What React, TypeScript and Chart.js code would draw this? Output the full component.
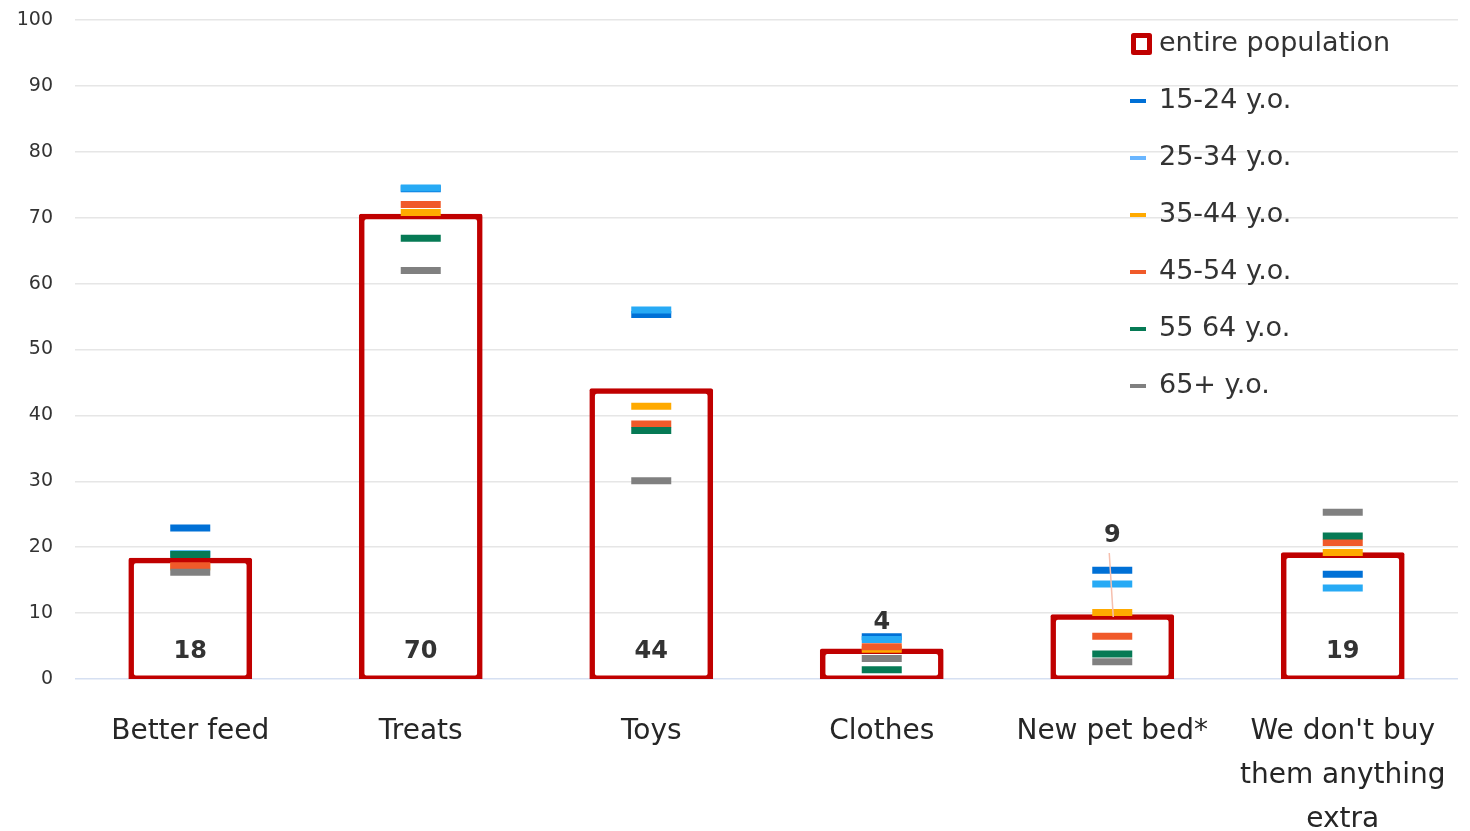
import React, { useEffect, useRef } from "react";
import { Chart, registerables } from "chart.js";

Chart.register(...registerables);

const FONT = "'Comic Sans MS', 'DejaVu Sans', sans-serif";

const categories: (string | string[])[] = [
  "Better feed",
  "Treats",
  "Toys",
  "Clothes",
  "New pet bed*",
  ["We don't buy", "them anything", "extra"],
];

const entirePopulation = [18, 70.2, 43.7, 4.2, 9.4, 18.8];
const age15to24 = [22.9, 74.4, 55.3, 6.4, 16.5, 15.9];
const age25to34 = [19.0, 74.5, 56.0, 6.0, 14.4, 13.8];
const age35to44 = [17.0, 70.8, 41.4, 4.5, 10.1, 19.2];
const age45to54 = [17.2, 72.0, 38.7, 4.9, 6.5, 20.7];
const age55to64 = [18.9, 66.9, 37.7, 1.4, 3.8, 21.7];
const age65plus = [16.2, 62.0, 30.1, 3.1, 2.6, 25.3];

// vertical position (in data units) of each bar's value label
const valueLabelAt = [4.2, 4.2, 4.2, 8.5, 21.7, 4.2];

const yMin = 0;
const yMax = 100;
const yStep = 10;

const groups = [
  { label: "15-24 y.o.", data: age15to24, color: "#0070d6" },
  { label: "25-34 y.o.", data: age25to34, color: "#27aaf5" },
  { label: "35-44 y.o.", data: age35to44, color: "#ffaa00" },
  { label: "45-54 y.o.", data: age45to54, color: "#f05a2a" },
  { label: "55 64 y.o.", data: age55to64, color: "#067a55" },
  { label: "65+ y.o.", data: age65plus, color: "#808080" },
];
const legendColors = ["#0070d6", "#6ab6ff", "#ffaa00", "#f05a2a", "#067a55", "#808080"];

const overlayPlugin = {
  id: "overlay",
  afterDatasetsDraw(chart: any) {
    const ctx = chart.ctx as CanvasRenderingContext2D;
    const xs = chart.scales.x;
    const ys = chart.scales.y;
    ctx.save();
    entirePopulation.forEach((v, i) => {
      const cx = xs.getPixelForValue(i);
      const ly = ys.getPixelForValue(valueLabelAt[i]);
      const top = ys.getPixelForValue(v);
      if (ly < top - 40) {
        ctx.strokeStyle = "#f6bfae";
        ctx.lineWidth = 1.5;
        ctx.beginPath();
        ctx.moveTo(cx - 3, ly + 17);
        ctx.lineTo(cx + 1, top);
        ctx.stroke();
      }
      ctx.fillStyle = "#333333";
      ctx.font = `bold 24px ${FONT}`;
      ctx.textAlign = "center";
      ctx.textBaseline = "middle";
      ctx.fillText(String(Math.round(v)), cx, ly);
    });
    ctx.restore();
  },
  afterDraw(chart: any) {
    const ctx = chart.ctx as CanvasRenderingContext2D;
    const area = chart.chartArea;
    const x0 = area.right - 328;
    const y0 = area.top + 24;
    const gap = 57;
    ctx.save();
    ctx.font = `27px ${FONT}`;
    ctx.textAlign = "left";
    ctx.textBaseline = "middle";
    ctx.strokeStyle = "#c00000";
    ctx.lineWidth = 5;
    ctx.lineJoin = "round";
    ctx.strokeRect(x0 + 3.5, y0 - 8.5, 16, 17);
    ctx.fillStyle = "#333333";
    ctx.fillText("entire population", x0 + 29, y0);
    groups.forEach((g, i) => {
      const yy = y0 + gap * (i + 1);
      ctx.strokeStyle = legendColors[i];
      ctx.lineWidth = 4;
      ctx.beginPath();
      ctx.moveTo(x0, yy);
      ctx.lineTo(x0 + 16, yy);
      ctx.stroke();
      ctx.fillStyle = "#333333";
      ctx.fillText(g.label, x0 + 29, yy);
    });
    ctx.restore();
  },
};

export default function App() {
  const ref = useRef<HTMLCanvasElement | null>(null);

  useEffect(() => {
    document.body.style.margin = "0";
    if (!ref.current) return;
    const datasets: any[] = [
      {
        type: "bar",
        label: "entire population",
        data: entirePopulation,
        backgroundColor: "rgba(255,255,255,0)",
        borderColor: "#c00000",
        borderWidth: 0.05,
        borderSkipped: false,
        borderRadius: 2,
        inflateAmount: 2.75,
        barPercentage: 0.513,
        categoryPercentage: 1,
        order: 10,
      },
      ...groups.map((g, i) => ({
        type: "line",
        label: g.label,
        data: g.data,
        showLine: false,
        pointStyle: "line",
        pointRadius: 20,
        pointHoverRadius: 20,
        pointBorderWidth: 7,
        pointBorderColor: g.color,
        pointBackgroundColor: g.color,
        borderColor: g.color,
        backgroundColor: g.color,
        order: 6 - i,
      })),
    ];

    const chart = new Chart(ref.current, {
      type: "bar",
      data: { labels: categories as any, datasets },
      options: {
        responsive: true,
        maintainAspectRatio: false,
        animation: false,
        layout: { autoPadding: false, padding: { left: 0, right: 12, top: 20, bottom: 0 } },
        plugins: {
          legend: { display: false },
          tooltip: { enabled: false },
        },
        scales: {
          x: {
            offset: true,
            grid: { display: false, drawTicks: false },
            border: { display: false },
            ticks: {
              color: "#262626",
              font: { family: FONT, size: 28, lineHeight: 1.57 },
              padding: 31,
              maxRotation: 0,
              autoSkip: false,
            },
            afterFit: (s: any) => {
              s.height = 152;
              s.paddingLeft = 0;
              s.paddingRight = 0;
            },
          },
          y: {
            min: yMin,
            max: yMax,
            border: { display: false },
            grid: {
              drawTicks: false,
              lineWidth: 1.5,
              color: (c: any) => (c.tick && c.tick.value === 0 ? "#d6e0f2" : "#e6e6e6"),
            },
            ticks: {
              stepSize: yStep,
              color: "#333333",
              font: { family: FONT, size: 19 },
              padding: 22,
            },
            afterFit: (s: any) => {
              s.width = 75;
              s.paddingTop = 0;
              s.paddingBottom = 0;
            },
          },
        },
      },
      plugins: [overlayPlugin],
    });
    return () => chart.destroy();
  }, []);

  return (
    <div style={{ width: 1470, height: 831, position: "relative" }}>
      <canvas ref={ref} />
    </div>
  );
}
